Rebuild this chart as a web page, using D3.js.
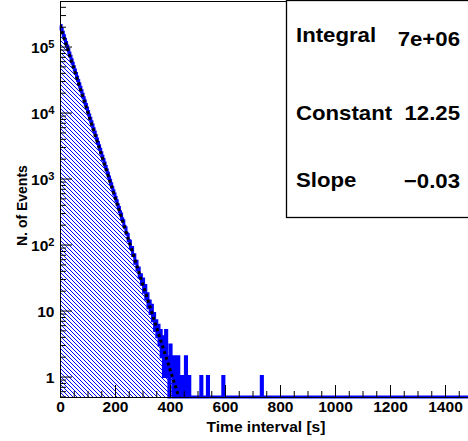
<!DOCTYPE html>
<html>
<head>
<meta charset="utf-8">
<script src="https://cdn.jsdelivr.net/npm/d3@7"></script>
<style>
  body { margin: 0; background: #fff; }
  svg { display: block; }
  text { font-family: "Liberation Sans", Arial, Helvetica, sans-serif; font-weight: bold; fill: #000; }
</style>
</head>
<body>
<svg id="chart" width="468" height="441"></svg>
<script>
// histogram: 4 s bins starting at 0
const binWidth = 4;
const counts = [
  209000, 185000, 164000, 146000, 129000, 115000, 102000, 90000, 80000, 71000,
  63000, 56000, 49500, 44000, 39000, 34500, 30600, 27200, 24100, 21400,
  19000, 16800, 14900, 13200, 11700, 10400, 9200, 8200, 7250, 6450,
  5700, 5060, 4490, 3980, 3530, 3130, 2780, 2460, 2180, 1940,
  1720, 1520, 1350, 1200, 1060, 940, 835, 740, 655, 585,
  515, 460, 400, 365, 315, 290, 245, 230, 190, 180,
  148, 142, 115, 112, 88, 90, 68, 70, 52, 56,
  41, 44, 32, 35, 25, 30, 19, 24, 15, 18,
  11, 14, 9, 12, 7, 9, 5, 7, 4, 6,
  3, 5, 2, 4, 1, 3, 5, 1, 2, 0,
  3, 1, 2, 0, 2, 1, 0, 2, 1, 0,
  1, 0, 1, 0, 2, 1, 0, 1, 0, 0
];
// isolated single entries further out [time s, count]
const tailEntries = [[512, 1], [536, 1], [592, 1], [732, 1]];

const xTicks = [0, 200, 400, 600, 800, 1000, 1200, 1400];
const yTicks = [1, 10, 100, 1000, 10000, 100000];
const yTickLabels = [["1", ""], ["10", ""], ["10", "2"], ["10", "3"], ["10", "4"], ["10", "5"]];

const fitConstant = 12.25;
const fitSlope = -0.03;
const statNames = ["Integral", "Constant", "Slope"];
const statValues = ["7e+06", "12.25", "\u22120.03"];

const xMax = 1500;
const yMin = 0.49, yMax = 4.9e5;
const SX = 1.11; // text is a bit wider than tall in the picture

const svg = d3.select("#chart");
const plotL = 60, plotR = 472.5, plotT = 1, plotB = 397;

const x = d3.scaleLinear().domain([0, xMax]).range([plotL, plotR]);
const y = d3.scaleLog().domain([yMin, yMax]).range([plotB, plotT]);

// full bin list
const nBins = xMax / binWidth;
const bins = [];
for (let i = 0; i < nBins; i++) {
  bins.push({ t: i * binWidth, n: i < counts.length ? counts[i] : 0 });
}
tailEntries.forEach(([t, n]) => { bins[Math.floor(t / binWidth)].n = n; });
bins.push({ t: xMax, n: bins[bins.length - 1].n });

const yv = d => y(Math.max(d.n, yMin));

const defs = svg.append("defs");
defs.append("pattern")
    .attr("id", "hatch")
    .attr("patternUnits", "userSpaceOnUse")
    .attr("width", 4)
    .attr("height", 4)
  .append("path")
    .attr("d", "M-1,-1L5,5M-1,3L1,5M3,-1L5,1")
    .attr("stroke", "#0000ff")
    .attr("stroke-width", 1)
    .attr("shape-rendering", "crispEdges");
defs.append("clipPath").attr("id", "plotclip")
  .append("rect")
    .attr("x", plotL).attr("y", plotT)
    .attr("width", plotR - plotL).attr("height", plotB - plotT);

// hatched fill
svg.append("path")
    .datum(bins)
    .attr("fill", "url(#hatch)")
    .attr("d", d3.area().curve(d3.curveStepAfter)
      .x(d => x(d.t)).y0(plotB).y1(yv));

// histogram outline
svg.append("path")
    .datum(bins)
    .attr("fill", "none")
    .attr("stroke", "#0000ff")
    .attr("stroke-width", 3)
    .attr("d", d3.line().curve(d3.curveStepAfter).x(d => x(d.t)).y(yv));

// exponential fit, straight in log space
const fitPts = [0, xMax].map(t => ({ t: t, v: Math.exp(fitConstant + fitSlope * t) }));
svg.append("path")
    .datum(fitPts)
    .attr("clip-path", "url(#plotclip)")
    .attr("fill", "none")
    .attr("stroke", "#000")
    .attr("stroke-width", 3)
    .attr("stroke-dasharray", "3 3")
    .attr("d", d3.line().x(d => x(d.t)).y(d => y(d.v)));

// x axis
const xMinor = d3.range(0, xMax + 1, 50).filter(v => v % 200 !== 0);
svg.append("g")
    .attr("transform", `translate(0,${plotB})`)
    .call(d3.axisBottom(x).tickValues(xMinor).tickSize(-6).tickSizeOuter(0).tickFormat(""))
    .call(g => g.select(".domain").remove());
svg.append("g")
    .attr("transform", `translate(0,${plotB})`)
    .call(d3.axisBottom(x).tickValues(xTicks).tickSize(-12).tickSizeOuter(0).tickPadding(5).tickFormat(d3.format("d")))
    .call(g => g.select(".domain").remove())
    .selectAll("text")
      .attr("font-size", 14)
      .attr("transform", `scale(${SX},1)`);

// y axis
const yMinor = [];
[0.1, 1, 10, 100, 1000, 10000, 100000].forEach(dec => {
  for (let m = 2; m <= 9; m++) {
    const v = m * dec;
    if (v >= yMin && v <= yMax) yMinor.push(v);
  }
});
svg.append("g")
    .attr("transform", `translate(${plotL},0)`)
    .call(d3.axisLeft(y).tickValues(yMinor).tickSize(-6).tickSizeOuter(0).tickFormat(""))
    .call(g => g.select(".domain").remove());
const yAx = svg.append("g")
    .attr("transform", `translate(${plotL},0)`)
    .call(d3.axisLeft(y).tickValues(yTicks).tickSize(-12).tickSizeOuter(0).tickPadding(5).tickFormat(""))
    .call(g => g.select(".domain").remove());
yAx.selectAll(".tick text")
    .attr("font-size", 14)
    .attr("dy", "0.45em")
    .attr("transform", `scale(${SX},1)`)
    .each(function(d, i) {
      const lab = yTickLabels[i];
      const t = d3.select(this);
      t.append("tspan").text(lab[0]);
      if (lab[1]) {
        t.append("tspan").attr("font-size", 10).attr("dy", "-0.55em").text(lab[1]);
      }
    });

// frame
svg.append("rect")
    .attr("x", plotL + 0.5).attr("y", plotT + 0.5)
    .attr("width", plotR - plotL).attr("height", plotB - plotT)
    .attr("fill", "none")
    .attr("stroke", "#000")
    .attr("stroke-width", 1);

// axis titles
svg.append("text")
    .attr("transform", `translate(266,432) scale(${SX},1)`)
    .attr("text-anchor", "middle")
    .attr("font-size", 14)
    .text("Time interval [s]");
svg.append("text")
    .attr("transform", `translate(27,246) scale(${SX},1) rotate(-90)`)
    .attr("text-anchor", "start")
    .attr("font-size", 14)
    .text("N. of Events");

// stats box
svg.append("rect")
    .attr("x", 286.5).attr("y", 0.5)
    .attr("width", 200).attr("height", 217)
    .attr("fill", "#fff")
    .attr("stroke", "#000")
    .attr("stroke-width", 1.3);
const nameBase = [42, 120, 187];
const valBase = [45.5, 120, 187.5];
statNames.forEach((s, i) => {
  svg.append("text")
      .attr("transform", `translate(296,${nameBase[i]}) scale(${SX},1)`)
      .attr("font-size", 20)
      .text(s);
  svg.append("text")
      .attr("transform", `translate(460,${valBase[i]}) scale(${SX},1)`)
      .attr("text-anchor", "end")
      .attr("font-size", 20)
      .text(statValues[i]);
});
</script>
</body>
</html>
